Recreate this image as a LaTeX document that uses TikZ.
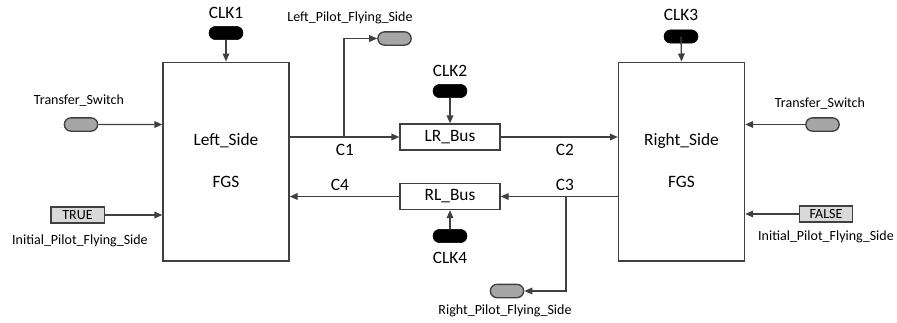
\documentclass[tikz,border=0pt]{standalone}
\usepackage{fontspec}
\setmainfont{Carlito}
\usetikzlibrary{arrows.meta, positioning, shapes.misc}

\definecolor{linegray}{HTML}{404040}
\definecolor{pillgray}{HTML}{A6A6A6}
\definecolor{constgray}{HTML}{D9D9D9}

\begin{document}
\begin{tikzpicture}[
  x=0.75pt, y=-0.75pt,
  block/.style={draw=linegray, line width=1pt, minimum width=94.5pt, minimum height=149pt, font=\fontsize{13}{15}\selectfont},
  bus/.style={draw=linegray, line width=1pt, minimum width=75pt, minimum height=19.5pt, inner sep=0pt, font=\fontsize{13}{15}\selectfont},
  clock/.style={rounded rectangle, fill=black, draw=black, minimum width=25.5pt, minimum height=10pt, inner sep=0pt},
  port/.style={rounded rectangle, fill=pillgray, draw=linegray, line width=1pt, minimum width=25pt, minimum height=10pt, inner sep=0pt},
  const/.style={draw=linegray, fill=constgray, line width=1pt, minimum width=40pt, minimum height=12pt, inner sep=0pt, font=\fontsize{10.5}{12}\selectfont},
  lbl/.style={inner sep=0pt, font=\fontsize{10.5}{12}\selectfont},
  big/.style={inner sep=0pt, font=\fontsize{13}{15}\selectfont},
  arrow/.style={-{Triangle[length=6pt, width=5pt]}, draw=linegray, line width=1pt}
]
\useasboundingbox (0,0) rectangle (897,322);

% the two flight guidance systems
\node[block] (left) at (226,161.5) {};
\node[big] (lefttxt) at (226,141) {Left\_Side};
\node[big] (leftfgs) at (226,182) {FGS};
\node[block] (right) at (681.5,161.5) {};
\node[big] (righttxt) at (681.5,141) {Right\_Side};
\node[big] (rightfgs) at (681.5,182) {FGS};

% buses
\node[bus] (lr) at (450,137) {LR\_Bus};
\node[bus] (rl) at (450,196.5) {RL\_Bus};

% clocks
\node[clock] (clk1) at (226,33) {};
\node[big] (clk1txt) at (226,13) {CLK1};
\node[clock] (clk2) at (450,91) {};
\node[big] (clk2txt) at (450,71) {CLK2};
\node[clock] (clk3) at (681,36.5) {};
\node[big] (clk3txt) at (681,15) {CLK3};
\node[clock] (clk4) at (450,236) {};
\node[big] (clk4txt) at (450,258) {CLK4};

% inputs and outputs
\node[port] (tsl) at (81,124.5) {};
\node[lbl] (tsltxt) at (79,101) {Transfer\_Switch};
\node[const] (true) at (77.5,215) {TRUE};
\node[lbl] (ipfsl) at (80,241) {Initial\_Pilot\_Flying\_Side};
\node[port] (tsr) at (822.5,124.5) {};
\node[lbl] (tsrtxt) at (820,104) {Transfer\_Switch};
\node[const] (false) at (826,214) {FALSE};
\node[lbl] (ipfsr) at (826,237) {Initial\_Pilot\_Flying\_Side};
\node[port] (lpfs) at (394.5,38.5) {};
\node[lbl] (lpfstxt) at (350,18) {Left\_Pilot\_Flying\_Side};
\node[port] (rpfs) at (507,291) {};
\node[lbl] (rpfstxt) at (505,311) {Right\_Pilot\_Flying\_Side};

% channel labels
\node[big] (c1) at (345,150) {C1};
\node[big] (c2) at (565,150) {C2};
\node[big] (c3) at (565,185) {C3};
\node[big] (c4) at (340,185) {C4};

\coordinate (c1fork) at (344,137);
\coordinate (c3fork) at (566,196.5);

\draw[arrow] (clk1) -- (left.north);
\draw[arrow] (clk2) -- (lr.north);
\draw[arrow] (clk3.center) -- (right.north);
\draw[arrow] (clk4) -- (rl.south);
\draw[arrow] (tsl) -- (tsl -| left.west);
\draw[arrow] (true) -- (true -| left.west);
\draw[arrow] (tsr) -- (tsr -| right.east);
\draw[arrow] (false) -- (false -| right.east);
\draw[arrow] (lr -| left.east) -- (lr.west);
\draw[arrow] (c1fork) |- (lpfs.west);
\draw[arrow] (lr.east) -- (lr -| right.west);
\draw[arrow] (rl -| right.west) -- (rl.east);
\draw[arrow] (c3fork) |- (rpfs.east);
\draw[arrow] (rl.west) -- (rl -| left.east);
\end{tikzpicture}
\end{document}
